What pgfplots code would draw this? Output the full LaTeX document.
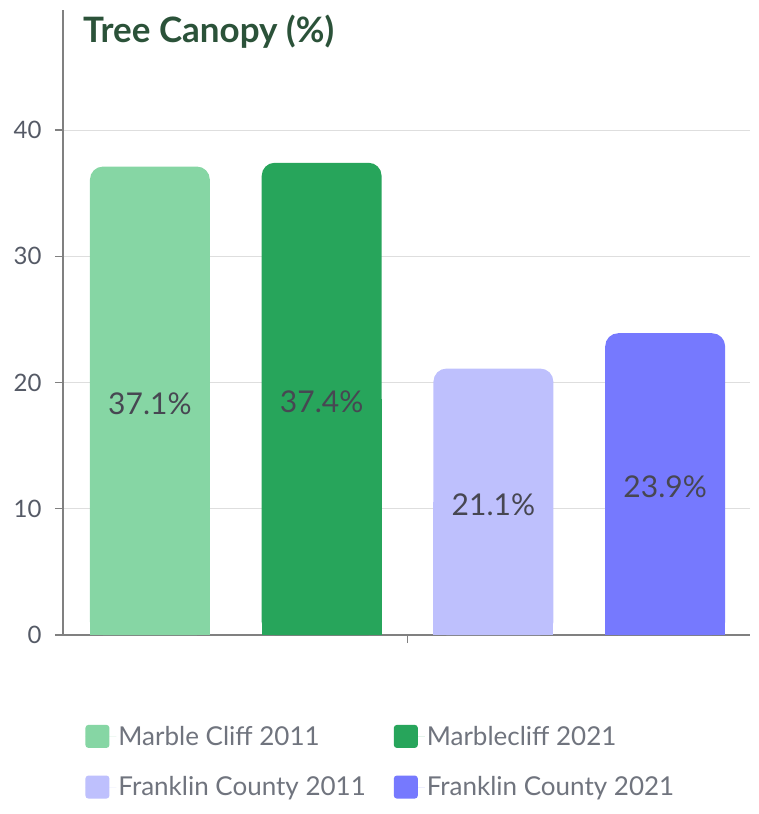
\documentclass[border=0pt]{standalone}
\usepackage{pgfplots}
\pgfplotsset{compat=1.18}
\usepackage{pgfplotstable}
\usepackage{fontspec}
\setmainfont{Lato}
\definecolor{c1}{HTML}{86D6A4}
\definecolor{c2}{HTML}{27A55B}
\definecolor{c3}{HTML}{BEC0FD}
\definecolor{c4}{HTML}{7679FE}
\definecolor{titlec}{HTML}{2B5239}
\definecolor{tickc}{HTML}{555A66}
\definecolor{legc}{HTML}{70747E}
\definecolor{valc}{HTML}{474752}
\pgfplotstableread{
x v
0 37.1
}\da
\pgfplotstableread{
x v
1 37.4
}\db
\pgfplotstableread{
x v
2 21.1
}\dc
\pgfplotstableread{
x v
3 23.9
}\dd
\begin{document}
\begin{tikzpicture}
\begin{axis}[
  scale only axis, width=687pt, height=625pt,
  xmin=-0.506, xmax=3.494, ymin=0, ymax=49.5,
  axis x line*=bottom, axis y line*=left,
  axis line style={-, draw=black!50, line width=1.2pt},
  xtick={1.5}, xticklabels={},
  ytick={0,10,20,30,40},
  ymajorgrids, grid style={draw=black!13, line width=0.8pt},
  tick align=outside, major tick length=8pt,
  tick style={draw=black!50, line width=1.2pt},
  /pgf/number format/assume math mode=true,
  yticklabel style={font=\fontsize{24}{26}\selectfont, text=tickc, xshift=-10pt},
  ybar, bar width=0.698, bar shift=0pt,
  legend columns=2,
  legend style={draw=none, at={(axis description cs:0.028,-0.139)}, anchor=north west,
    font=\fontsize{26}{28}\selectfont, text=legc,
    /tikz/every even column/.append style={column sep=26pt},
    row sep=26pt},
  legend cell align=left,
  legend image code/.code={\fill[#1, draw=none, rounded corners=3pt] (0pt,-11.5pt) rectangle (24pt,11.5pt);\path (0pt,0pt) -- (31pt,0pt);},
  clip=false,
]
\addplot[fill=c1, draw=none, rounded corners=13pt] table[x=x,y=v] {\da};
\addlegendentry{Marble Cliff 2011}
\addplot[fill=c2, draw=none, rounded corners=13pt] table[x=x,y=v] {\db};
\addlegendentry{Marblecliff 2021}
\addplot[fill=c3, draw=none, rounded corners=13pt] table[x=x,y=v] {\dc};
\addlegendentry{Franklin County 2011}
\addplot[fill=c4, draw=none, rounded corners=13pt] table[x=x,y=v] {\dd};
\addlegendentry{Franklin County 2021}
\pgfplotsset{every node near coord/.style={anchor=center, yshift=-3pt, font=\fontsize{30}{32}\selectfont, text=valc}}
\addplot[fill=c1, draw=none, forget plot, point meta=explicit, nodes near coords={\pgfmathprintnumber[fixed,precision=1,fixed zerofill]{\pgfplotspointmeta}\%}] table[x=x,y expr=\thisrow{v}/2, meta=v] {\da};
\addplot[fill=c2, draw=none, forget plot, point meta=explicit, nodes near coords={\pgfmathprintnumber[fixed,precision=1,fixed zerofill]{\pgfplotspointmeta}\%}] table[x=x,y expr=\thisrow{v}/2, meta=v] {\db};
\addplot[fill=c3, draw=none, forget plot, point meta=explicit, nodes near coords={\pgfmathprintnumber[fixed,precision=1,fixed zerofill]{\pgfplotspointmeta}\%}] table[x=x,y expr=\thisrow{v}/2, meta=v] {\dc};
\addplot[fill=c4, draw=none, forget plot, point meta=explicit, nodes near coords={\pgfmathprintnumber[fixed,precision=1,fixed zerofill]{\pgfplotspointmeta}\%}] table[x=x,y expr=\thisrow{v}/2, meta=v] {\dd};
\node[anchor=west, font=\fontsize{35}{37}\selectfont\bfseries, text=titlec, inner sep=0pt] at (axis description cs:0.029,0.966) {Tree Canopy (\%)};
\coordinate (bl) at (axis description cs:0,0);
\end{axis}
\path ([shift={(-63pt,-179pt)}]bl) rectangle ([shift={(696pt,635pt)}]bl);
\end{tikzpicture}
\end{document}
